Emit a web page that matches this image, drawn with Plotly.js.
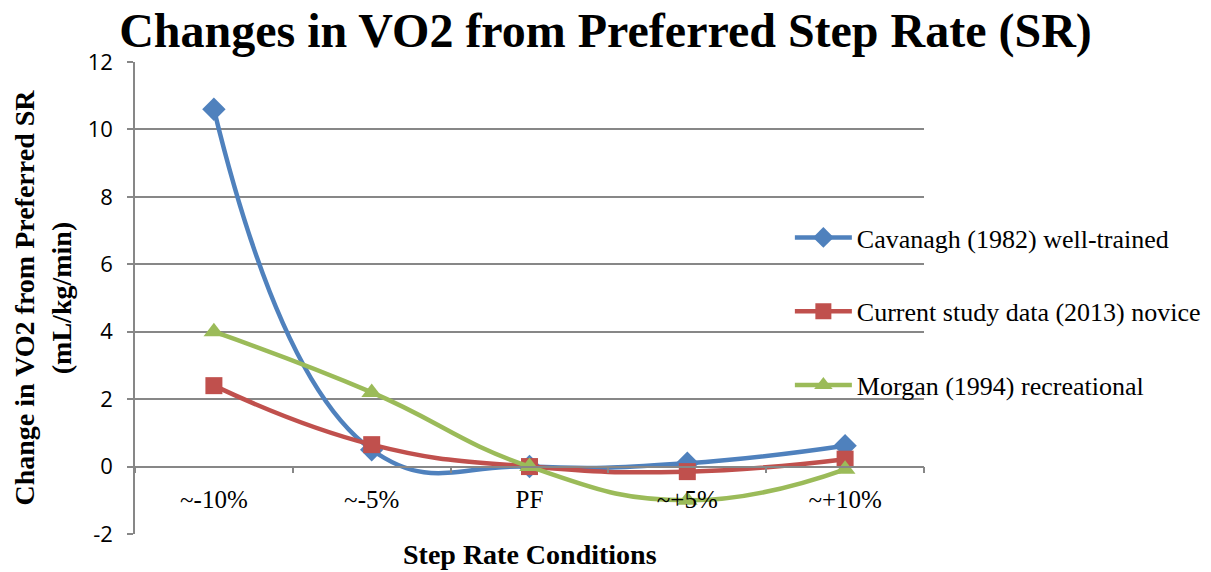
<!DOCTYPE html>
<html>
<head>
<meta charset="utf-8">
<script src="https://cdn.plot.ly/plotly-3.0.1.min.js"></script>
<style>html,body{margin:0;padding:0;background:#fff;}#chart{width:1211px;height:572px;}</style>
</head>
<body>
<div id="chart"></div>
<script>
const categories = ["~-10%", "~-5%", "PF", "~+5%", "~+10%"];
const cavanagh = [10.6, 0.5, 0, 0.1, 0.62];
const current = [2.4, 0.65, 0, -0.15, 0.22];
const morgan = [4.0, 2.2, 0, -1.0, -0.08];
const seriesNames = ["Cavanagh (1982) well-trained", "Current study data (2013) novice", "Morgan (1994) recreational"];
const yTicks = [-2, 0, 2, 4, 6, 8, 10, 12];
const yTickText = ["-2", "0", "2", "4", "6", "8", "10", "12"];

const colors = ["#4F81BD", "#C0504D", "#9BBB59"];
const symbols = ["diamond", "square", "triangle-up"];
const sizes = [18, 17, 18];
const data = [cavanagh, current, morgan].map((vals, i) => ({
  x: categories,
  y: vals,
  name: seriesNames[i],
  type: "scatter",
  mode: "lines+markers",
  line: {color: colors[i], width: 4.5, shape: "spline", smoothing: 1.3},
  marker: {color: colors[i], symbol: symbols[i], size: sizes[i]},
  legendgroup: "g" + i
}));

const serif = "Liberation Serif, Times New Roman, serif";
const layout = {
  width: 1211, height: 572,
  margin: {l: 135, r: 287, t: 62, b: 38, autoexpand: false},
  paper_bgcolor: "#fff", plot_bgcolor: "rgba(0,0,0,0)",
  title: {text: "<b>Changes in VO2 from Preferred Step Rate (SR)</b>", font: {family: serif, size: 48, color: "#000"}, x: 0.5, xanchor: "center", y: 0.948, yanchor: "middle"},
  showlegend: true,
  legend: {x: 0.83, xanchor: "left", y: 0.678, yanchor: "top", bgcolor: "rgba(0,0,0,0)", font: {family: serif, size: 26, color: "#000"}, tracegroupgap: 37, itemwidth: 57},
  xaxis: {
    type: "category",
    range: [-0.5, 4.5],
    anchor: "free", position: 2/14,
    showline: true, linecolor: "#878787", linewidth: 1.5,
    ticks: "outside", tickson: "boundaries", ticklen: 6, tickcolor: "#878787", tickwidth: 1.5,
    showgrid: false, zeroline: false,
    tickfont: {family: serif, size: 25, color: "#000"},
    ticklabelstandoff: 11
  },
  yaxis: {
    range: [-2, 12],
    tickvals: yTicks, ticktext: yTickText,
    showline: true, linecolor: "#878787", linewidth: 1.5,
    ticks: "outside", ticklen: 6, tickcolor: "#878787", tickwidth: 1.5,
    showgrid: true, gridcolor: "#878787", gridwidth: 1.5,
    zeroline: false,
    tickfont: {family: "Open Sans, Liberation Sans, sans-serif", size: 22, color: "#000"},
    ticklabelstandoff: 10,
    title: {text: "<b>Change in VO2 from Preferred SR<br>(mL/kg/min)</b>", font: {family: serif, size: 28, color: "#000"}, standoff: 8}
  },
  annotations: [{
    text: "<b>Step Rate Conditions</b>", xref: "paper", yref: "paper", x: 0.5, y: -0.006, xanchor: "center", yanchor: "top",
    showarrow: false, font: {family: serif, size: 28, color: "#000"}
  }]
};
Plotly.newPlot("chart", data, layout, {displayModeBar: false});
</script>
</body>
</html>
